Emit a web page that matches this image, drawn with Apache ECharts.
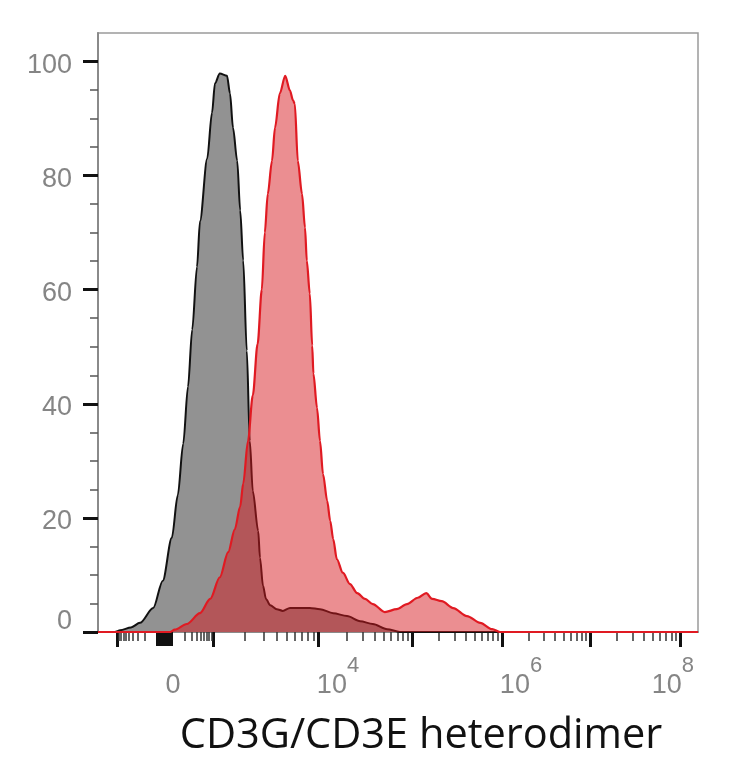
<!DOCTYPE html>
<html>
<head>
<meta charset="utf-8">
<script src="https://cdn.jsdelivr.net/npm/echarts@6/dist/echarts.min.js"></script>
<style>
  html, body { margin: 0; padding: 0; background: #fff; }
  #chart { width: 729px; height: 768px; }
</style>
</head>
<body>
<div id="chart"></div>
<script>
  // x is a channel scale 0..1000 (biexponential display), y is % of max
  const grayX = [0, 28, 37, 55, 70, 92, 108, 123, 133, 142, 150, 157, 165, 170, 182, 190, 195, 203, 215, 220, 225, 232, 237, 242, 248, 253, 258, 267, 270, 275, 280, 287, 298, 308, 320, 353, 370, 392, 415, 437, 458, 482, 503, 1000]
  const grayY = [0, 0, 0.3, 0.8, 1.6, 4.2, 9, 16.5, 24, 33, 43, 53, 64, 72, 83, 91, 96.2, 97.9, 97.5, 94.4, 88.4, 82.6, 73.9, 65.1, 49.3, 33.5, 24.7, 17.7, 13, 8.1, 5.8, 4.7, 4, 3.7, 4.2, 4.2, 4, 3.3, 2.8, 1.9, 1.4, 0.5, 0, 0]

  const redX = [0, 120, 128, 148, 170, 187, 203, 217, 228, 237, 242, 250, 258, 266, 273, 278, 283, 290, 295, 303, 312, 320, 325, 328, 333, 340, 345, 348, 353, 357, 359, 365, 370, 375, 382, 387, 392, 398, 408, 420, 432, 445, 458, 478, 498, 515, 533, 547, 557, 573, 592, 615, 637, 657, 670, 1000]
  const redY = [0, 0, 0.4, 1.4, 3.3, 5.8, 9.6, 14, 18, 22, 26, 33.5, 41.5, 50.5, 60, 70, 76.8, 82.6, 88.4, 94.4, 97.5, 94.9, 93.2, 92.6, 82.6, 76.8, 70.9, 65.1, 59.3, 50.2, 45.3, 39.3, 33.5, 27.7, 23, 19.5, 16.3, 12.8, 10.4, 8.4, 6.8, 5.8, 4.9, 3.5, 4, 4.9, 6, 6.8, 5.8, 5.4, 4.2, 2.8, 1.6, 0.5, 0, 0]

  // axis ticks / labels
  const xMajor = [32, 192, 367, 523, 673, 820, 970]
  const zeroLo = 98
  const zeroHi = 123
  const xLabelPos = [130, 400, 705, 958]
  const xLabelBase = ['0', '10', '10', '10']
  const xLabelExp = ['', '4', '6', '8']
  const yMajor = [0, 20, 40, 60, 80, 100]

  // minor ticks: log spacing inside every decade
  const xMinor = []
  for (let m = 2; m <= 9; m++) {
    xMinor.push(zeroLo - (zeroLo - xMajor[0]) * Math.log10(m))
    xMinor.push(zeroHi + (xMajor[1] - zeroHi) * Math.log10(m))
    for (let k = 1; k < xMajor.length - 1; k++) {
      xMinor.push(xMajor[k] + (xMajor[k + 1] - xMajor[k]) * Math.log10(m))
    }
  }
  // dense ticks around zero form the black block
  const xBlock = []
  for (let v = zeroLo; v <= zeroHi; v += 0.5) xBlock.push(v)

  const yMinor = []
  for (let v = 5; v < 105; v += 5) {
    if (v % 20 !== 0) yMinor.push(v)
  }

  const labelFont = 'Liberation Sans, Arial, sans-serif'
  const grayText = '#858585'

  const chart = echarts.init(document.getElementById('chart'), null, { renderer: 'canvas' })

  const baseX = {
    type: 'value',
    min: 0,
    max: 1000,
    position: 'bottom',
    splitLine: { show: false },
    axisLine: { show: false },
    axisLabel: { show: false },
    axisTick: { show: false }
  }
  const baseY = {
    type: 'value',
    min: 0,
    max: 105,
    position: 'left',
    splitLine: { show: false },
    axisLine: { show: false },
    axisLabel: { show: false },
    axisTick: { show: false }
  }

  chart.setOption({
    animation: false,
    backgroundColor: '#fff',
    grid: {
      left: 98,
      right: 31,
      top: 33,
      bottom: 136,
      show: true,
      borderColor: '#9a9a9a',
      borderWidth: 1.5,
      outerBoundsMode: 'none'
    },
    xAxis: [
      {
        ...baseX,
        axisLine: { show: true, onZero: false, lineStyle: { color: '#8a8a8a', width: 2 } },
        axisTick: { show: true, customValues: xMajor, length: 15, lineStyle: { color: '#111', width: 3 } }
      },
      {
        ...baseX,
        axisTick: { show: true, customValues: xMinor, length: 9, lineStyle: { color: '#333', width: 1.5 } }
      },
      {
        ...baseX,
        axisTick: { show: true, customValues: xBlock, length: 14, lineStyle: { color: '#111', width: 2 } }
      },
      {
        ...baseX,
        name: 'CD3G/CD3E heterodimer',
        nameLocation: 'middle',
        nameGap: 83,
        nameTextStyle: {
          fontFamily: 'Open Sans, Noto Sans, sans-serif',
          fontSize: 41.5,
          color: '#111',
          padding: [0, 0, 0, 46]
        },
        axisLabel: {
          show: true,
          customValues: xLabelPos,
          margin: 40,
          formatter: function (value) {
            const i = xLabelPos.indexOf(value)
            if (i < 0) return ''
            return '{b|' + xLabelBase[i] + '}{s|' + (xLabelExp[i] || ' ') + '}'
          },
          rich: {
            b: { fontFamily: labelFont, fontSize: 27, lineHeight: 27, color: grayText, verticalAlign: 'bottom' },
            s: { fontFamily: labelFont, fontSize: 22, lineHeight: 22, color: grayText, verticalAlign: 'bottom', padding: [0, 0, 22, 0] }
          }
        }
      }
    ],
    yAxis: [
      {
        ...baseY,
        axisLine: { show: true, onZero: false, lineStyle: { color: '#8a8a8a', width: 2 } },
        axisTick: { show: true, customValues: yMajor, length: 15, lineStyle: { color: '#111', width: 3 } },
        axisLabel: {
          show: true,
          customValues: yMajor,
          margin: 26,
          formatter: function (value) {
            return value === 0 ? '{z|0}' : '{n|' + value + '}'
          },
          rich: {
            n: { fontFamily: labelFont, fontSize: 27, color: grayText, padding: [8, 0, 0, 0] },
            z: { fontFamily: labelFont, fontSize: 27, color: grayText, padding: [0, 0, 20, 0] }
          }
        }
      },
      {
        ...baseY,
        axisTick: { show: true, customValues: yMinor, length: 8, lineStyle: { color: '#555', width: 1.5 } }
      }
    ],
    series: [
      {
        name: 'control',
        type: 'line',
        xAxisIndex: 0,
        yAxisIndex: 0,
        data: grayX.map((x, i) => [x, grayY[i]]),
        smooth: 0.3,
        smoothMonotone: 'x',
        showSymbol: false,
        lineStyle: { color: '#111', width: 2 },
        areaStyle: { color: '#929292', opacity: 1 },
        z: 2
      },
      {
        name: 'CD3G/CD3E',
        type: 'line',
        xAxisIndex: 0,
        yAxisIndex: 0,
        data: redX.map((x, i) => [x, redY[i]]),
        smooth: 0.3,
        smoothMonotone: 'x',
        showSymbol: false,
        lineStyle: { color: '#e01a22', width: 2.2 },
        areaStyle: { color: 'rgb(215, 25, 30)', opacity: 0.49 },
        z: 3
      }
    ]
  })
</script>
</body>
</html>
